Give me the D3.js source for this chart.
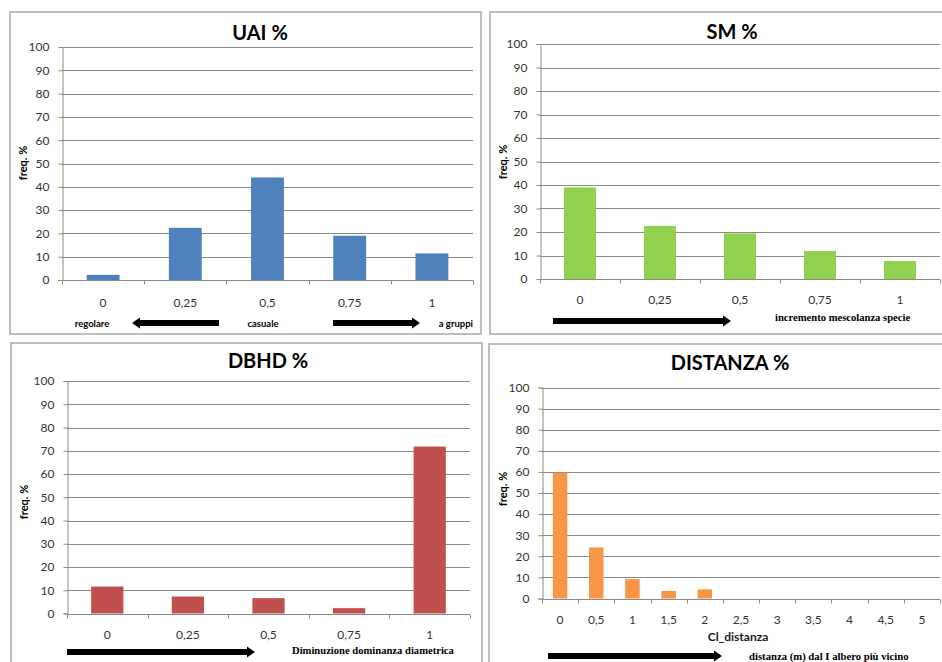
<!DOCTYPE html>
<html>
<head>
<meta charset="utf-8">
<script src="https://cdn.jsdelivr.net/npm/d3@7"></script>
<style>
  html, body { margin: 0; padding: 0; background: #fff; }
  svg { display: block; }
</style>
</head>
<body>
<svg id="chart" width="942" height="662"></svg>
<script>
// Class labels and frequency (%) per index
const classCategories = ["0", "0,25", "0,5", "0,75", "1"];
const uaiValues  = [2.2, 22.4, 44.0, 19.0, 11.4];
const smValues   = [39.0, 22.6, 19.4, 11.9, 7.7];
const dbhdValues = [11.6, 7.3, 6.6, 2.3, 71.8];

const distCategories = ["0", "0,5", "1", "1,5", "2", "2,5", "3", "3,5", "4", "4,5", "5"];
const distValues = [59.6, 24.2, 9.2, 3.6, 4.3, 0, 0, 0, 0, 0, 0];

const yTicks = [0, 10, 20, 30, 40, 50, 60, 70, 80, 90, 100];
const yLabel = "freq. %";

const svg = d3.select("#chart");
const SANS = "Lato, 'Open Sans', sans-serif";
const SERIF = "'Liberation Serif', 'DejaVu Serif', serif";

// Panel layout: outer frame, plot area and decorations
const panels = [
  {
    title: "UAI %", cats: classCategories, vals: uaiValues, color: "#4F81BD",
    frame: [10, 12, 481, 334], plot: { x0: 62, x1: 473, y0: 47, y1: 280 },
    titleXY: [260, 32], ylabXY: [22, 163], xLabOff: 22
  },
  {
    title: "SM %", cats: classCategories, vals: smValues, color: "#92D050",
    frame: [490, 12, 946, 334], plot: { x0: 540, x1: 940, y0: 44, y1: 279 },
    titleXY: [732, 31], ylabXY: [502, 162], xLabOff: 20
  },
  {
    title: "DBHD %", cats: classCategories, vals: dbhdValues, color: "#C0504D",
    frame: [11, 343, 482, 670], plot: { x0: 67, x1: 470, y0: 381, y1: 613.5 },
    titleXY: [268, 360], ylabXY: [23, 502], xLabOff: 21
  },
  {
    title: "DISTANZA %", cats: distCategories, vals: distValues, color: "#F79646",
    frame: [489, 344, 946, 670], plot: { x0: 542, x1: 940, y0: 387.5, y1: 598.5 },
    titleXY: [730, 362], ylabXY: [502, 489], xLabOff: 21,
    xTitle: "Cl_distanza", xTitleXY: [738, 636]
  }
];

// Thick block arrow, from (xFrom) to (xTo) with head at xTo
function arrowPath(xFrom, xTo, y) {
  const dir = xTo > xFrom ? 1 : -1;
  const body = 3, head = 5.5, headLen = 8;
  const xb = xTo - dir * headLen;
  const p = d3.path();
  p.moveTo(xFrom, y - body);
  p.lineTo(xb, y - body);
  p.lineTo(xb, y - head);
  p.lineTo(xTo, y);
  p.lineTo(xb, y + head);
  p.lineTo(xb, y + body);
  p.lineTo(xFrom, y + body);
  p.closePath();
  return p.toString();
}

panels.forEach(pn => {
  const g = svg.append("g");
  const [fx0, fy0, fx1, fy1] = pn.frame;
  g.append("rect")
    .attr("x", fx0).attr("y", fy0)
    .attr("width", fx1 - fx0).attr("height", fy1 - fy0)
    .attr("fill", "#fff").attr("stroke", "#a9a9a9").attr("stroke-width", 1.5);

  const { x0, x1, y0, y1 } = pn.plot;
  const x = d3.scaleBand().domain(pn.cats).range([x0, x1])
    .paddingInner(0.6).paddingOuter(0.3);
  const y = d3.scaleLinear().domain([0, 100]).range([y1, y0]);

  // Horizontal gridlines
  g.append("g").selectAll("line").data(yTicks.filter(t => t > 0)).join("line")
    .attr("x1", x0).attr("x2", x1)
    .attr("y1", d => Math.round(y(d)) + 0.5).attr("y2", d => Math.round(y(d)) + 0.5)
    .attr("stroke", "#8a8a8a").attr("stroke-width", 1);

  // Y axis
  const yAxis = g.append("g").attr("transform", `translate(${Math.round(x0) + 0.5},0)`)
    .call(d3.axisLeft(y).tickValues(yTicks).tickSize(4).tickPadding(9));
  yAxis.select(".domain").attr("stroke", "#8a8a8a");
  yAxis.selectAll(".tick line").attr("stroke", "#8a8a8a");
  yAxis.selectAll(".tick text")
    .attr("font-family", SANS).attr("font-size", 12).attr("fill", "#333");

  // Bars
  g.append("g").selectAll("rect").data(pn.vals).join("rect")
    .attr("x", (d, i) => x(pn.cats[i]))
    .attr("width", x.bandwidth())
    .attr("y", d => y(d))
    .attr("height", d => y(0) - y(d))
    .attr("fill", pn.color);

  // X axis: ticks at category boundaries
  const step = x.step();
  const bounds = d3.range(pn.cats.length + 1).map(i => x0 + i * step);
  const base = Math.round(y1) + 0.5;
  g.append("line").attr("x1", x0).attr("x2", x1).attr("y1", base).attr("y2", base)
    .attr("stroke", "#8a8a8a");
  g.append("g").selectAll("line").data(bounds).join("line")
    .attr("x1", d => Math.round(d) + 0.5).attr("x2", d => Math.round(d) + 0.5)
    .attr("y1", base).attr("y2", base + 4)
    .attr("stroke", "#8a8a8a");
  g.append("g").selectAll("text").data(pn.cats).join("text")
    .attr("x", d => x(d) + x.bandwidth() / 2)
    .attr("y", y1 + pn.xLabOff)
    .attr("text-anchor", "middle").attr("dominant-baseline", "central")
    .attr("font-family", SANS).attr("font-size", 12).attr("fill", "#333")
    .text(d => d);

  // Title
  g.append("text")
    .attr("x", pn.titleXY[0]).attr("y", pn.titleXY[1])
    .attr("text-anchor", "middle").attr("dominant-baseline", "central")
    .attr("font-family", SANS).attr("font-weight", "bold").attr("font-size", 20)
    .attr("fill", "#000").text(pn.title);

  // Y axis title
  g.append("text")
    .attr("transform", `translate(${pn.ylabXY[0]},${pn.ylabXY[1]}) rotate(-90)`)
    .attr("text-anchor", "middle").attr("dominant-baseline", "central")
    .attr("font-family", SANS).attr("font-weight", "bold").attr("font-size", 11)
    .attr("fill", "#000").text(yLabel);

  if (pn.xTitle) {
    g.append("text")
      .attr("x", pn.xTitleXY[0]).attr("y", pn.xTitleXY[1])
      .attr("text-anchor", "middle").attr("dominant-baseline", "central")
      .attr("font-family", SANS).attr("font-weight", "bold").attr("font-size", 12)
      .attr("fill", "#1a1a1a").text(pn.xTitle);
  }
});

// Reading guides under the axes
const ann = svg.append("g");
function arrow(xFrom, xTo, yPos) {
  ann.append("path").attr("d", arrowPath(xFrom, xTo, yPos)).attr("fill", "#000");
}
function note(txt, xPos, yPos, anchor, family, size) {
  ann.append("text").attr("x", xPos).attr("y", yPos)
    .attr("text-anchor", anchor).attr("dominant-baseline", "central")
    .attr("font-family", family).attr("font-weight", "bold").attr("font-size", size)
    .attr("fill", "#000").text(txt);
}

// UAI: regular <- random -> clumped
note("regolare", 92, 323, "middle", SANS, 9.5);
arrow(219, 132, 323);
note("casuale", 263, 323, "middle", SANS, 9.5);
arrow(333, 420, 323);
note("a gruppi", 473, 323, "end", SANS, 9.5);

// SM
arrow(553, 731, 321);
note("incremento mescolanza specie", 775, 317, "start", SERIF, 10.6);

// DBHD
arrow(67, 255, 652);
note("Diminuzione dominanza diametrica", 292, 650, "start", SERIF, 10.6);

// Distance
arrow(548, 722, 656);
note("distanza (m) dal I albero più vicino", 749, 656, "start", SERIF, 10.7);
</script>
</body>
</html>
